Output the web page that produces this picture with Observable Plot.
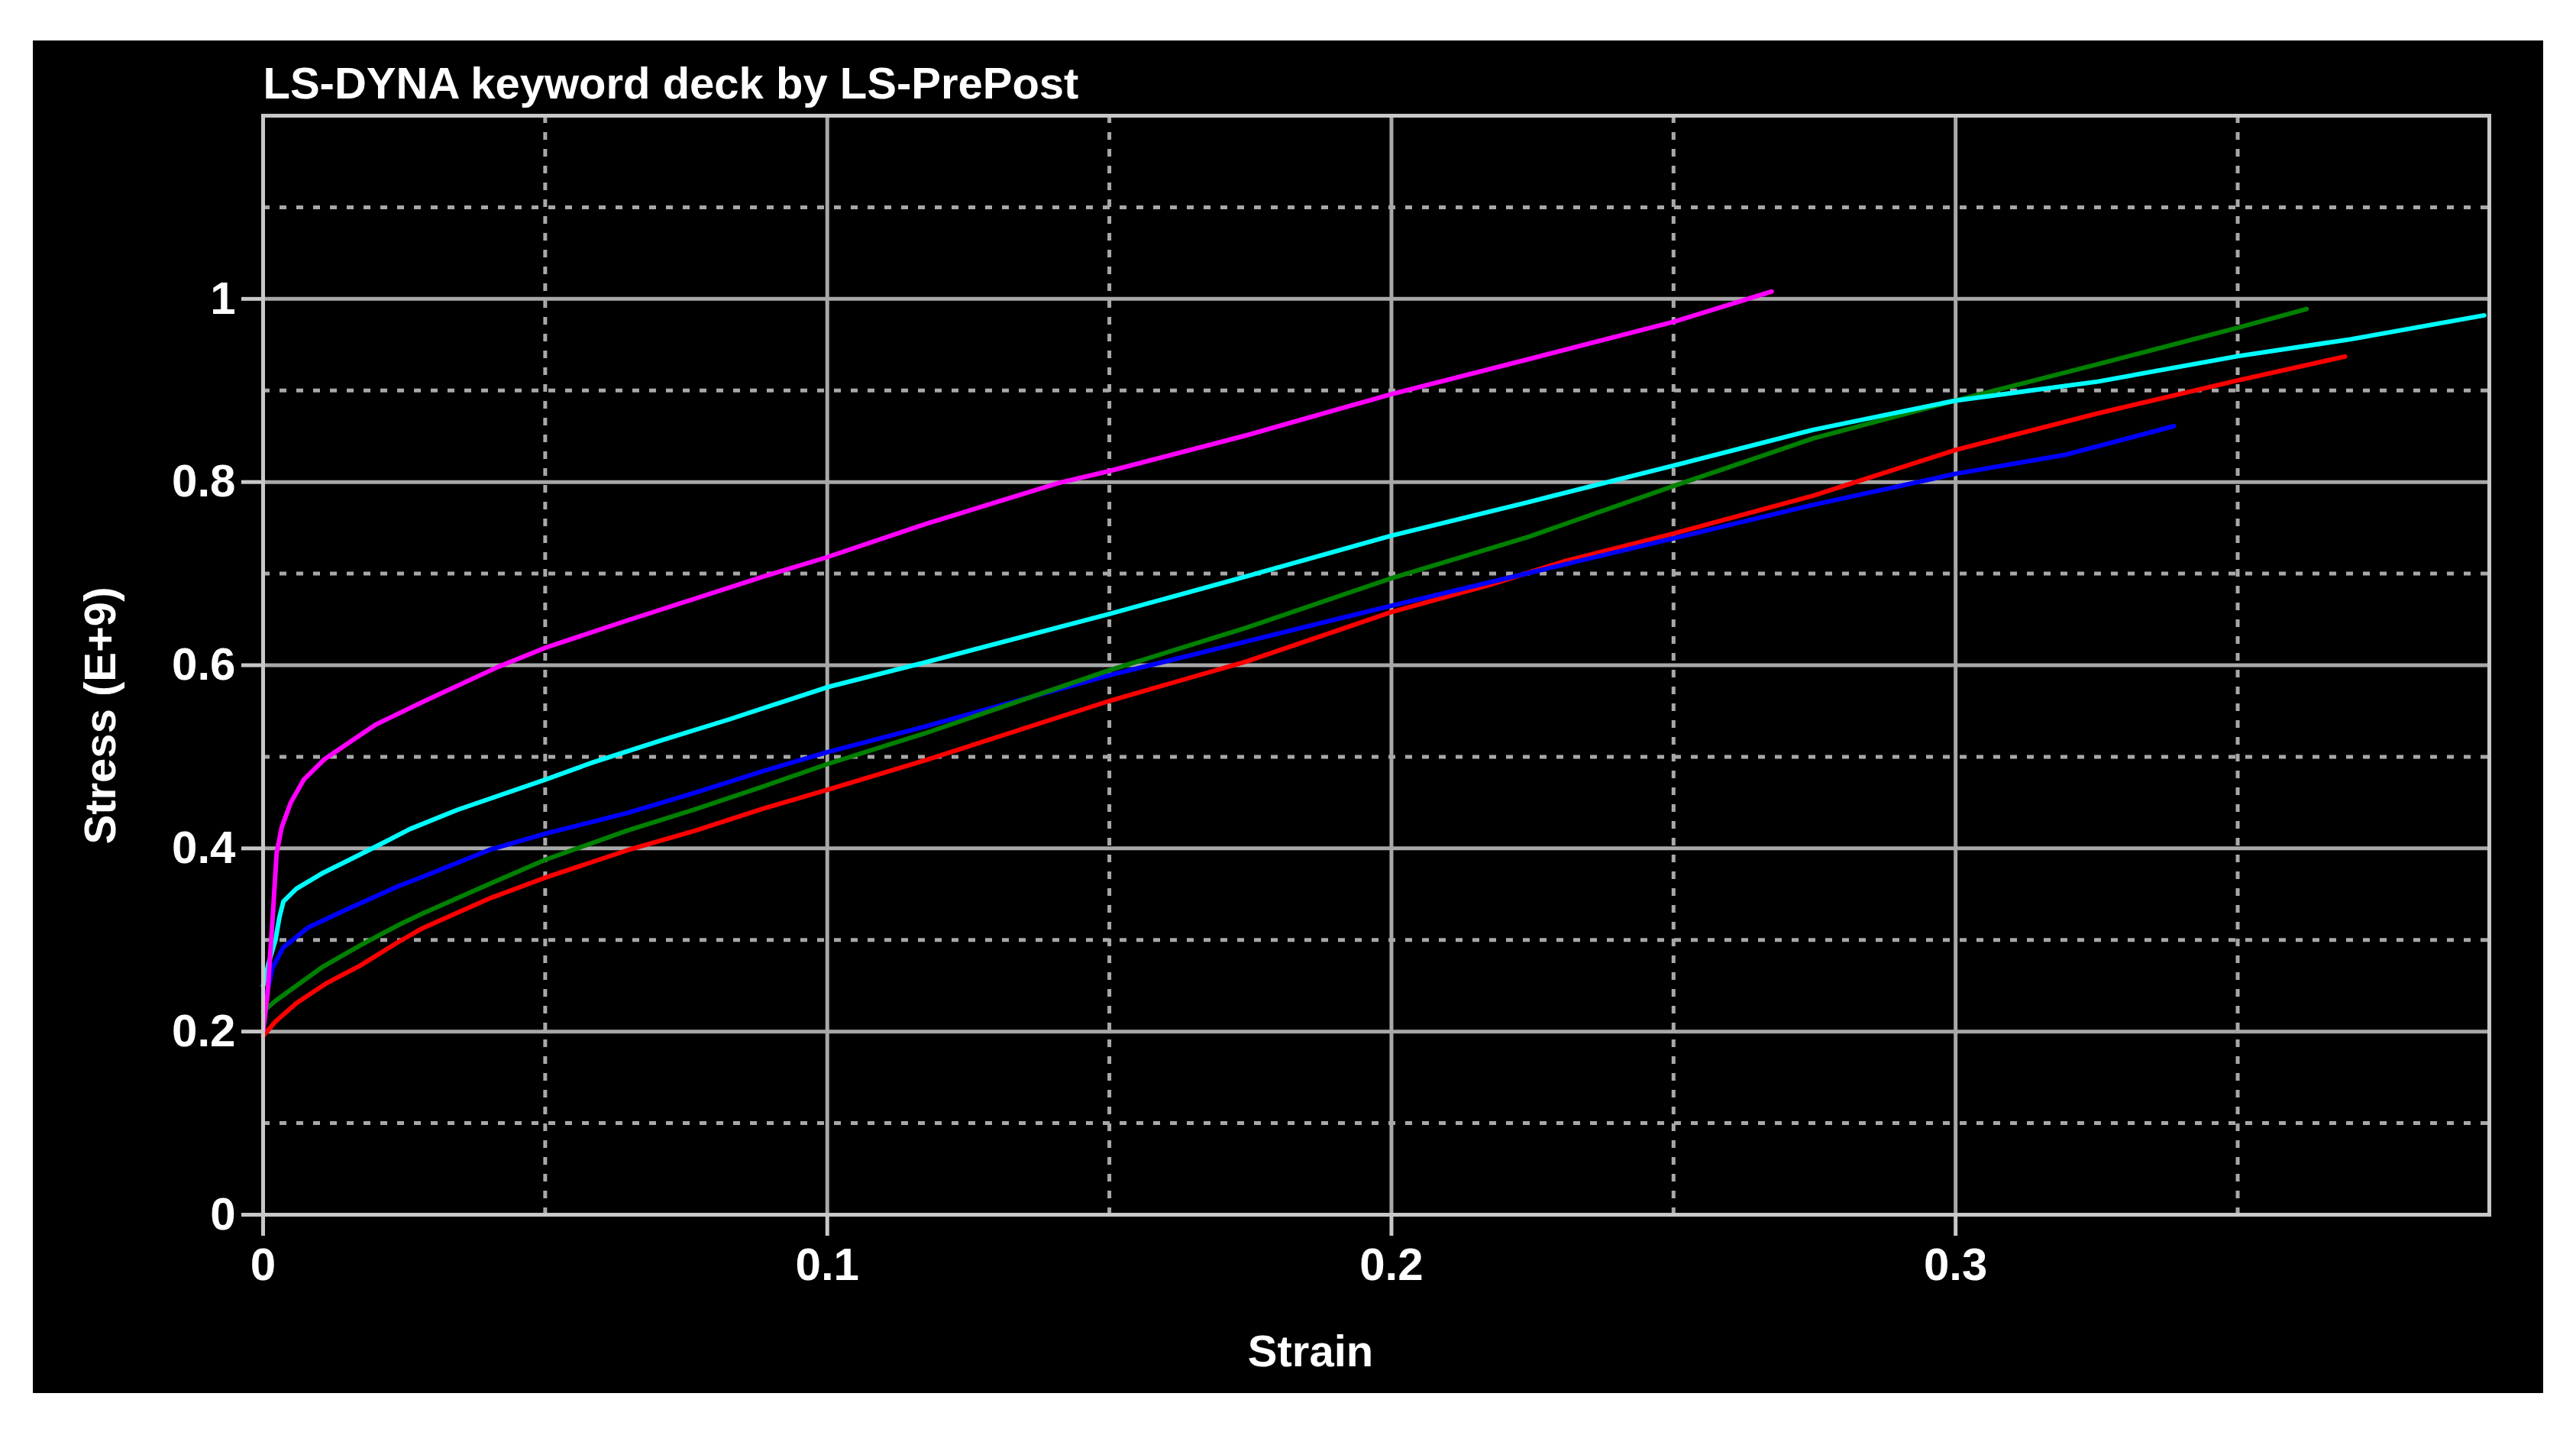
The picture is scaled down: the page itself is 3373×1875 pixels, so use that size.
<!DOCTYPE html>
<html>
<head>
<meta charset="utf-8">
<script src="https://cdn.jsdelivr.net/npm/d3@7"></script>
<script src="https://cdn.jsdelivr.net/npm/@observablehq/plot@0.6"></script>
<style>
  html, body { margin: 0; padding: 0; background: #ffffff; width: 3373px; height: 1875px; overflow: hidden; }
  #panel { position: absolute; left: 43px; top: 53px; width: 3287px; height: 1771px; background: #000000; }
  #panel svg { display: block; max-width: none; }
</style>
</head>
<body>
<div id="panel"></div>
<script>
// ---- texts ----
const chartTitle = "LS-DYNA keyword deck by LS-PrePost";
const xLabel = "Strain";
const yLabel = "Stress (E+9)";

// ---- ticks ----
const xTicks = [0, 0.1, 0.2, 0.3];
const xTickLabels = ["0", "0.1", "0.2", "0.3"];
const yTicks = [0, 0.2, 0.4, 0.6, 0.8, 1];
const yTickLabels = ["0", "0.2", "0.4", "0.6", "0.8", "1"];
const xMajorGrid = [0.1, 0.2, 0.3];
const xMinorGrid = [0.05, 0.15, 0.25, 0.35];
const yMajorGrid = [0.2, 0.4, 0.6, 0.8, 1];
const yMinorGrid = [0.1, 0.3, 0.5, 0.7, 0.9, 1.1];

// ---- series (strain, stress in E+9) ----
const seriesNames = ["red", "blue", "green", "cyan", "magenta"];
const seriesColors = ["#b8101c", "#1616b4", "#1ea81e", "#22a6a6", "#a01ea0"];

const strainRed = [0, 0.0022, 0.0059, 0.0113, 0.0172, 0.0239, 0.0283, 0.0404, 0.05, 0.0646, 0.0767, 0.0888, 0.1, 0.1173, 0.15, 0.1743, 0.2, 0.2174, 0.2309, 0.25, 0.2747, 0.3, 0.3252, 0.35, 0.369];
const stressRed = [0.195, 0.211, 0.231, 0.253, 0.272, 0.2975, 0.313, 0.346, 0.368, 0.398, 0.4195, 0.4437, 0.464, 0.496, 0.561, 0.604, 0.658, 0.6876, 0.714, 0.7437, 0.785, 0.835, 0.875, 0.911, 0.937];

const strainBlue = [0, 0.0008, 0.0017, 0.0036, 0.0081, 0.0149, 0.0239, 0.0283, 0.0404, 0.05, 0.0646, 0.0767, 0.0888, 0.1, 0.1173, 0.15, 0.1743, 0.2, 0.2242, 0.25, 0.2747, 0.3, 0.3196, 0.3387];
const stressBlue = [0.235, 0.245, 0.27, 0.292, 0.314, 0.3336, 0.3586, 0.369, 0.399, 0.416, 0.4387, 0.461, 0.4847, 0.505, 0.533, 0.589, 0.626, 0.665, 0.7005, 0.7385, 0.775, 0.809, 0.830, 0.861];

const strainGreen = [0, 0.0022, 0.0059, 0.0104, 0.0172, 0.0239, 0.0283, 0.0404, 0.05, 0.0646, 0.0767, 0.0888, 0.1, 0.1173, 0.15, 0.1743, 0.2, 0.2242, 0.25, 0.2747, 0.3, 0.3252, 0.35, 0.3622];
const stressGreen = [0.222, 0.2335, 0.25, 0.27, 0.294, 0.316, 0.329, 0.362, 0.3876, 0.4195, 0.443, 0.468, 0.492, 0.5256, 0.5945, 0.641, 0.695, 0.740, 0.7956, 0.8475, 0.889, 0.9287, 0.9685, 0.989];

const strainCyan = [0, 0.001, 0.0022, 0.0029, 0.0036, 0.0059, 0.0104, 0.0158, 0.0203, 0.026, 0.0344, 0.05, 0.0585, 0.0706, 0.0827, 0.1, 0.1173, 0.15, 0.1743, 0.2, 0.2242, 0.25, 0.2747, 0.3, 0.3252, 0.35, 0.3701, 0.3937];
const stressCyan = [0.25, 0.275, 0.30, 0.325, 0.342, 0.356, 0.3725, 0.389, 0.403, 0.421, 0.442, 0.475, 0.494, 0.518, 0.541, 0.576, 0.603, 0.656, 0.697, 0.7415, 0.778, 0.818, 0.857, 0.889, 0.9097, 0.9374, 0.956, 0.982];

const strainMagenta = [0, 0.0008, 0.0017, 0.0024, 0.0033, 0.0049, 0.0072, 0.0108, 0.0199, 0.0283, 0.0416, 0.05, 0.0646, 0.0888, 0.1, 0.1173, 0.141, 0.15, 0.1743, 0.2, 0.2242, 0.25, 0.2674];
const stressMagenta = [0.20, 0.242, 0.325, 0.395, 0.423, 0.45, 0.475, 0.497, 0.535, 0.56, 0.598, 0.619, 0.649, 0.697, 0.718, 0.754, 0.799, 0.812, 0.851, 0.896, 0.934, 0.975, 1.008];

const seriesStrain = [strainRed, strainBlue, strainGreen, strainCyan, strainMagenta];
const seriesStress = [stressRed, stressBlue, stressGreen, stressCyan, stressMagenta];

const rows = seriesNames.flatMap((name, k) =>
  seriesStrain[k].map((x, i) => ({series: name, strain: x, stress: seriesStress[k][i]}))
);

const font = '"Liberation Sans", Arial, Helvetica, sans-serif';
const gridMajor = "#a8a8a8";
const gridMinor = "#a8a8a8";

const plot = Plot.plot({
  width: 3287,
  height: 1771,
  marginLeft: 301,
  marginRight: 71,
  marginTop: 98,
  marginBottom: 234,
  style: {background: "#000000", color: "#ffffff", fontFamily: font, fontSize: "58px", fontWeight: "bold", overflow: "visible"},
  x: {domain: [0, 0.3946]},
  y: {domain: [0, 1.2]},
  color: {domain: seriesNames, range: seriesColors},
  marks: [
    Plot.ruleY(yMinorGrid, {stroke: gridMinor, strokeWidth: 5, strokeDasharray: "9,13"}),
    Plot.ruleX(xMinorGrid, {stroke: gridMinor, strokeWidth: 5, strokeDasharray: "10,12"}),
    Plot.ruleY(yMajorGrid, {stroke: gridMajor, strokeWidth: 5}),
    Plot.ruleX(xMajorGrid, {stroke: gridMajor, strokeWidth: 5}),
    Plot.line(rows, {x: "strain", y: "stress", z: "series", stroke: "series", strokeWidth: 6, strokeLinejoin: "round"}),
    Plot.frame({stroke: "#c8c8c8", strokeWidth: 5}),
    Plot.axisY({ticks: yTicks, tickFormat: d => yTickLabels[yTicks.indexOf(d)], tickSize: 28, tickPadding: 8,
      stroke: "#c8c8c8", strokeWidth: 5, fill: "#ffffff", fontSize: 60, fontWeight: "bold", label: null}),
    Plot.axisX({ticks: xTicks, tickFormat: d => xTickLabels[xTicks.indexOf(d)], tickSize: 28, tickPadding: 15,
      stroke: "#c8c8c8", strokeWidth: 5, fill: "#ffffff", fontSize: 60, fontWeight: "bold", label: null}),
    Plot.text([chartTitle], {frameAnchor: "top-left", dy: -64, lineAnchor: "top", textAnchor: "start",
      fill: "#ffffff", fontSize: 58, fontWeight: "bold"}),
    Plot.text([xLabel], {frameAnchor: "bottom", dx: -86, dy: 157, lineAnchor: "top", textAnchor: "middle",
      fill: "#ffffff", fontSize: 58, fontWeight: "bold"}),
    Plot.text([yLabel], {frameAnchor: "left", dx: -212, dy: 66, rotate: -90, lineAnchor: "middle", textAnchor: "middle",
      fill: "#ffffff", fontSize: 58, fontWeight: "bold"})
  ]
});

document.getElementById("panel").appendChild(plot);
</script>
</body>
</html>
